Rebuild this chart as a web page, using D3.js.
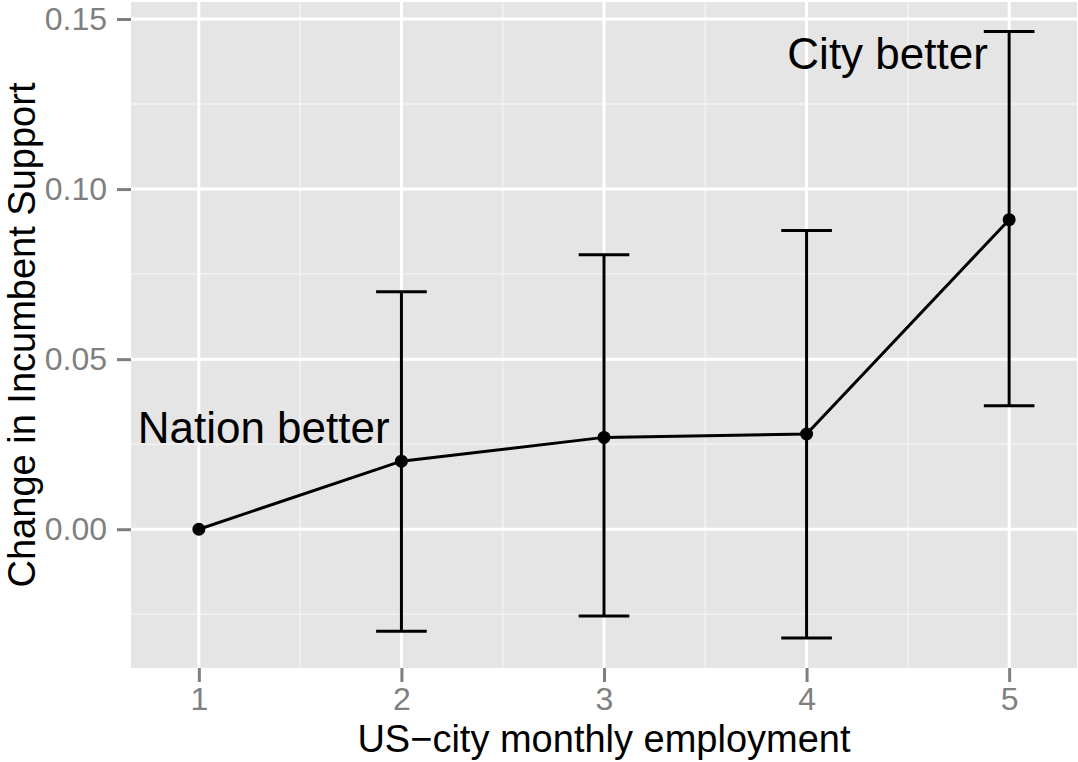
<!DOCTYPE html>
<html><head><meta charset="utf-8">
<script src="https://cdn.jsdelivr.net/npm/d3@7"></script>
<style>html,body{margin:0;padding:0;background:#fff;}svg{display:block;}</style>
</head><body>
<svg id="chart" width="1078" height="762"></svg>
<script>
const xs = [1, 2, 3, 4, 5];
const est = [0, 0.020, 0.027, 0.028, 0.091];
const lower = [null, -0.030, -0.0255, -0.032, 0.0363];
const upper = [null, 0.0698, 0.0807, 0.0878, 0.1463];
const xTicks = [1, 2, 3, 4, 5];
const yTicks = [0.00, 0.05, 0.10, 0.15];
const xMinor = [1.5, 2.5, 3.5, 4.5];
const yMinor = [-0.025, 0.025, 0.075, 0.125];
const labels = [{x: 1.32, y: 0.03, text: "Nation better"}, {x: 4.4, y: 0.14, text: "City better"}];

const svg = d3.select("#chart");
const L = 131, R = 1077, T = 2, B = 668;
const x = d3.scaleLinear().domain([0.665, 5.335]).range([L, R]);
const y = d3.scaleLinear().domain([-0.0408, 0.155]).range([B, T]);
const font = "'Liberation Sans', Arial, Helvetica, sans-serif";

svg.append("rect").attr("x", L).attr("y", T).attr("width", R - L).attr("height", B - T).attr("fill", "#E5E5E5");

const g = svg.append("g");
g.selectAll(".xmin").data(xMinor).enter().append("line")
  .attr("x1", d => x(d)).attr("x2", d => x(d)).attr("y1", T).attr("y2", B)
  .attr("stroke", "#F2F2F2").attr("stroke-width", 1.5);
g.selectAll(".ymin").data(yMinor).enter().append("line")
  .attr("y1", d => y(d)).attr("y2", d => y(d)).attr("x1", L).attr("x2", R)
  .attr("stroke", "#F2F2F2").attr("stroke-width", 1.5);
g.selectAll(".xmaj").data(xTicks).enter().append("line")
  .attr("x1", d => x(d)).attr("x2", d => x(d)).attr("y1", T).attr("y2", B)
  .attr("stroke", "#FFFFFF").attr("stroke-width", 3);
g.selectAll(".ymaj").data(yTicks).enter().append("line")
  .attr("y1", d => y(d)).attr("y2", d => y(d)).attr("x1", L).attr("x2", R)
  .attr("stroke", "#FFFFFF").attr("stroke-width", 3);

// axes
const xAxis = d3.axisBottom(x).tickValues(xTicks).tickSize(14).tickPadding(5).tickFormat(d3.format("d"));
const xg = svg.append("g").attr("transform", `translate(0,${B})`).call(xAxis);
const yAxis = d3.axisLeft(y).tickValues(yTicks).tickSize(14).tickPadding(10).tickFormat(d3.format(".2f"));
const yg = svg.append("g").attr("transform", `translate(${L},0)`).call(yAxis);
[xg, yg].forEach(a => {
  a.select(".domain").remove();
  a.selectAll(".tick line").attr("stroke", "#7F7F7F").attr("stroke-width", 3);
  a.selectAll(".tick text").attr("fill", "#7F7F7F").attr("font-family", font).attr("font-size", 32);
});
xg.selectAll(".tick text").attr("dy", "0.71em");

// error bars
const data = xs.map((d, i) => ({x: d, y: est[i], lo: lower[i], hi: upper[i]}));
const eb = data.filter(d => d.lo !== null);
const hw = 0.125;
const ebg = svg.append("g").attr("stroke", "#000").attr("stroke-width", 3).attr("fill", "none");
ebg.selectAll(".v").data(eb).enter().append("line")
  .attr("x1", d => x(d.x)).attr("x2", d => x(d.x)).attr("y1", d => y(d.lo)).attr("y2", d => y(d.hi));
ebg.selectAll(".t").data(eb).enter().append("line")
  .attr("x1", d => x(d.x - hw)).attr("x2", d => x(d.x + hw)).attr("y1", d => y(d.hi)).attr("y2", d => y(d.hi));
ebg.selectAll(".b").data(eb).enter().append("line")
  .attr("x1", d => x(d.x - hw)).attr("x2", d => x(d.x + hw)).attr("y1", d => y(d.lo)).attr("y2", d => y(d.lo));

// line + points
svg.append("path").datum(data)
  .attr("d", d3.line().x(d => x(d.x)).y(d => y(d.y)))
  .attr("fill", "none").attr("stroke", "#000").attr("stroke-width", 3);
svg.selectAll(".pt").data(data).enter().append("circle")
  .attr("cx", d => x(d.x)).attr("cy", d => y(d.y)).attr("r", 6.5).attr("fill", "#000");

// annotations
svg.selectAll(".ann").data(labels).enter().append("text")
  .attr("x", d => x(d.x)).attr("y", d => y(d.y) + 16)
  .attr("text-anchor", "middle").attr("font-family", font).attr("font-size", 44).attr("fill", "#000")
  .text(d => d.text);

// axis titles
svg.append("text").attr("x", (L + R) / 2).attr("y", 752)
  .attr("text-anchor", "middle").attr("font-family", font).attr("font-size", 38).attr("fill", "#000")
  .text("US\u2212city monthly employment");
svg.append("text").attr("transform", `translate(35,${(T + B) / 2}) rotate(-90)`)
  .attr("text-anchor", "middle").attr("font-family", font).attr("font-size", 38).attr("fill", "#000")
  .text("Change in Incumbent Support");
</script>
</body></html>
